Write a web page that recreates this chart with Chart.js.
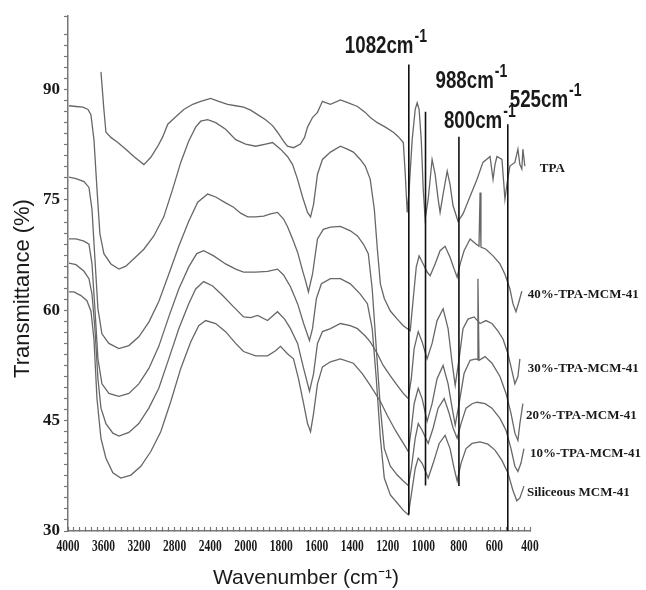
<!DOCTYPE html>
<html>
<head>
<meta charset="utf-8">
<script src="https://cdn.jsdelivr.net/npm/chart.js@4.4.1/dist/chart.umd.min.js"></script>
<style>
  html, body { margin: 0; padding: 0; background: #fff; }
</style>
</head>
<body>
<canvas id="chart" width="646" height="590"></canvas>
<script>
// labelled wavenumbers (cm-1); the axis is twice as dense below 2000
const xTickLabels = [4000, 3600, 3200, 2800, 2400, 2000, 1800, 1600, 1400, 1200, 1000, 800, 600, 400];
const yTickLabels = [30, 45, 60, 75, 90];

const seriesNames = ['TPA', '40%-TPA-MCM-41', '30%-TPA-MCM-41', '20%-TPA-MCM-41', '10%-TPA-MCM-41', 'Siliceous MCM-41'];

const tpaWn = [3629, 3596, 3573, 3517, 3439, 3349, 3259, 3146, 3068, 2989, 2933, 2877, 2787, 2697, 2596, 2506, 2394, 2304, 2203, 2113, 2024, 1972, 1933, 1888, 1849, 1821, 1787, 1765, 1731, 1692, 1669, 1652, 1624, 1596, 1568, 1546, 1523, 1467, 1422, 1371, 1327, 1299, 1259, 1214, 1169, 1141, 1113, 1102, 1091, 1080, 1063, 1046, 1035, 1024, 1012, 1001, 990, 973, 951, 934, 917, 906, 889, 866, 850, 833, 805, 777, 737, 698, 665, 625, 608, 597, 586, 558, 547, 541, 530, 513, 485, 468, 457, 446, 440, 429];
const tpaT = [92.4, 87.3, 84.2, 83.5, 82.8, 81.9, 80.9, 79.8, 80.8, 82.3, 83.6, 85.3, 86.3, 87.3, 88.0, 88.4, 88.8, 88.4, 88.0, 87.8, 87.6, 87.2, 86.6, 85.9, 85.1, 84.2, 83.0, 82.3, 82.1, 82.6, 83.5, 84.9, 86.2, 86.9, 88.4, 88.2, 88.0, 88.6, 88.2, 87.7, 86.9, 86.2, 85.5, 84.9, 84.2, 83.6, 82.8, 78.5, 73.3, 76.5, 83.2, 87.3, 88.2, 87.3, 83.2, 76.5, 72.4, 75.1, 80.5, 78.5, 75.1, 73.3, 75.8, 78.9, 77.1, 74.2, 72.1, 73.1, 75.5, 77.8, 80.1, 80.9, 77.8, 79.8, 80.9, 80.5, 77.1, 75.1, 77.1, 79.6, 80.1, 81.9, 79.8, 79.2, 81.9, 79.6];

const s40Wn = [3989, 3910, 3832, 3775, 3742, 3708, 3674, 3641, 3596, 3517, 3427, 3349, 3259, 3146, 3034, 2922, 2821, 2731, 2641, 2563, 2506, 2428, 2338, 2226, 2113, 2001, 1944, 1888, 1849, 1804, 1765, 1736, 1708, 1680, 1652, 1635, 1618, 1596, 1568, 1523, 1467, 1428, 1394, 1355, 1327, 1299, 1276, 1259, 1242, 1220, 1186, 1147, 1113, 1074, 1057, 1040, 1024, 1001, 979, 962, 934, 906, 878, 850, 827, 810, 793, 771, 737, 704, 687, 681, 676, 648, 608, 569, 541, 513, 496, 479, 463, 446];
const s40T = [87.8, 87.7, 87.6, 87.3, 86.6, 83.2, 76.5, 70.4, 67.7, 66.3, 65.6, 66.0, 67.0, 68.3, 70.1, 72.7, 76.5, 80.1, 83.0, 84.9, 85.7, 85.9, 85.5, 84.6, 83.2, 82.6, 82.3, 82.6, 82.8, 81.9, 80.9, 79.8, 77.8, 75.4, 73.3, 72.7, 74.4, 78.5, 80.5, 81.5, 82.3, 81.9, 81.5, 80.5, 79.6, 77.8, 73.7, 68.3, 63.6, 61.6, 59.9, 58.8, 57.9, 57.2, 61.6, 65.9, 67.4, 66.3, 65.2, 64.7, 66.3, 68.1, 68.7, 67.2, 65.6, 64.5, 66.3, 68.1, 69.7, 69.0, 68.7, 76.0, 68.6, 68.3, 67.4, 66.3, 64.9, 62.9, 60.9, 59.8, 61.1, 62.6];

const s30Wn = [3989, 3910, 3820, 3764, 3730, 3697, 3663, 3629, 3573, 3495, 3427, 3315, 3203, 3090, 2978, 2866, 2753, 2641, 2563, 2473, 2372, 2259, 2147, 2024, 1972, 1933, 1877, 1821, 1781, 1748, 1708, 1674, 1641, 1618, 1596, 1568, 1523, 1467, 1411, 1371, 1327, 1299, 1259, 1226, 1186, 1147, 1113, 1085, 1068, 1052, 1029, 1007, 979, 951, 923, 889, 861, 838, 821, 799, 777, 749, 715, 681, 648, 614, 581, 552, 524, 502, 485, 468, 457];
const s30T = [66.4, 66.2, 65.3, 64.3, 62.2, 57.5, 50.7, 46.7, 44.6, 43.3, 42.9, 43.4, 44.6, 46.7, 49.4, 53.4, 57.5, 60.9, 62.9, 63.9, 63.3, 62.0, 60.6, 59.1, 59.0, 59.3, 58.6, 59.8, 58.8, 57.5, 55.5, 52.1, 49.0, 51.4, 55.5, 57.1, 57.5, 58.2, 57.9, 57.5, 56.5, 55.7, 54.1, 52.5, 51.1, 49.8, 48.7, 48.0, 50.7, 54.8, 57.1, 55.7, 53.4, 55.5, 58.6, 60.2, 57.5, 52.8, 49.8, 53.4, 57.5, 58.8, 59.1, 58.2, 58.6, 58.2, 57.2, 56.1, 54.1, 51.8, 50.0, 51.0, 53.4];

const s20Wn = [3989, 3933, 3854, 3787, 3742, 3708, 3674, 3629, 3573, 3495, 3405, 3292, 3180, 3068, 2956, 2843, 2731, 2619, 2529, 2450, 2338, 2226, 2113, 2024, 1944, 1877, 1832, 1804, 1765, 1731, 1703, 1674, 1652, 1635, 1618, 1596, 1568, 1523, 1467, 1394, 1344, 1299, 1242, 1203, 1158, 1130, 1102, 1085, 1068, 1052, 1029, 1007, 979, 951, 923, 889, 861, 838, 821, 799, 771, 737, 704, 698, 693, 687, 653, 614, 569, 535, 507, 485, 468, 457, 440];
const s20T = [62.5, 62.5, 62.0, 61.3, 59.9, 56.1, 48.0, 42.6, 39.9, 37.9, 37.2, 37.6, 38.8, 40.8, 43.5, 47.6, 52.1, 55.7, 57.9, 58.6, 58.2, 57.1, 55.5, 54.4, 53.8, 53.8, 54.5, 55.1, 54.1, 53.4, 50.7, 47.3, 44.6, 43.5, 46.0, 50.0, 52.3, 53.0, 53.4, 52.8, 51.4, 49.8, 47.6, 45.7, 43.7, 42.6, 41.5, 40.8, 43.9, 47.3, 49.4, 48.0, 44.9, 47.3, 50.7, 52.5, 50.0, 46.7, 44.4, 47.3, 51.4, 53.2, 53.4, 53.3, 64.3, 53.2, 53.7, 52.8, 51.0, 48.7, 46.0, 43.3, 42.3, 44.6, 47.3];

const s10Wn = [3989, 3910, 3820, 3764, 3730, 3697, 3663, 3618, 3540, 3427, 3315, 3203, 3090, 2978, 2866, 2753, 2641, 2540, 2428, 2338, 2226, 2136, 2057, 1989, 1944, 1899, 1860, 1821, 1787, 1765, 1736, 1708, 1680, 1663, 1647, 1624, 1596, 1563, 1523, 1467, 1411, 1371, 1338, 1310, 1288, 1265, 1242, 1220, 1186, 1147, 1113, 1085, 1068, 1046, 1029, 1007, 973, 945, 917, 883, 855, 833, 810, 788, 760, 726, 698, 653, 614, 569, 535, 507, 485, 468, 451, 434];
const s10T = [78.1, 77.9, 77.5, 76.7, 73.7, 67.0, 60.2, 56.8, 55.5, 54.8, 55.2, 56.4, 58.4, 61.2, 64.9, 68.7, 72.1, 74.7, 75.8, 75.4, 74.6, 74.0, 73.2, 72.7, 72.7, 72.8, 73.1, 73.3, 72.4, 71.4, 69.7, 67.9, 65.4, 64.0, 62.5, 64.9, 69.7, 71.0, 71.3, 71.4, 70.8, 70.1, 69.0, 67.7, 62.9, 54.8, 46.7, 41.2, 38.8, 37.6, 36.8, 36.2, 38.5, 42.6, 44.6, 43.7, 41.9, 44.0, 46.7, 48.0, 46.0, 44.0, 42.6, 44.6, 46.7, 47.3, 47.5, 47.3, 46.7, 45.3, 43.7, 41.2, 38.8, 38.1, 39.2, 41.2];

const silWn = [3989, 3910, 3820, 3764, 3730, 3697, 3663, 3618, 3540, 3427, 3315, 3203, 3090, 2978, 2866, 2753, 2641, 2551, 2473, 2360, 2226, 2113, 2024, 1944, 1877, 1821, 1787, 1748, 1708, 1674, 1641, 1624, 1602, 1574, 1523, 1467, 1411, 1355, 1315, 1288, 1265, 1242, 1220, 1186, 1147, 1113, 1085, 1068, 1046, 1029, 1007, 973, 945, 911, 878, 850, 827, 810, 788, 760, 726, 681, 637, 597, 558, 524, 496, 474, 457, 434];
const silT = [69.7, 69.7, 69.4, 69.0, 66.3, 60.2, 53.4, 50.0, 48.7, 48.3, 48.7, 50.0, 52.1, 55.1, 59.1, 62.9, 65.9, 67.7, 68.1, 67.4, 66.3, 65.6, 65.2, 65.2, 65.3, 65.6, 64.8, 63.2, 60.9, 58.2, 55.9, 57.5, 61.6, 63.6, 64.3, 64.3, 63.6, 62.2, 60.9, 57.5, 50.7, 42.6, 37.2, 34.9, 33.8, 32.8, 32.2, 34.9, 38.5, 39.9, 39.2, 37.2, 39.2, 41.9, 43.0, 41.2, 38.5, 36.8, 39.2, 41.2, 41.9, 42.1, 41.8, 41.0, 39.6, 37.9, 35.5, 34.1, 34.5, 36.1];

// marked bands and how far each marker line runs (transmittance)
const peakWn = [1082, 988, 800, 525];
const peakTop = [93.4, 87.0, 83.6, 85.3];
const peakBottom = [32.2, 36.2, 36.1, 30];

const spectra = [[tpaWn, tpaT], [s40Wn, s40T], [s30Wn, s30T], [s20Wn, s20T], [s10Wn, s10T], [silWn, silT]];

// label placement, in pixels
const peakLabelOffset = [[-64, -12], [10, -24], [-15, -9], [2, -17]];
const seriesLabelOffset = [[15, 3], [6, 3], [8, 10], [3, 12], [6, 5], [3, 7]];

const SANS = '"Liberation Sans", Arial, sans-serif';
const SERIF = '"Liberation Serif", "Times New Roman", serif';

const zip = (xs, ys) => xs.map((x, i) => ({ x: x, y: ys[i] }));

// piecewise axis: every labelled wavenumber sits at the same spacing
class SplitWavenumberScale extends Chart.LinearScale {
    determineDataLimits() {
        this.min = Math.min(...xTickLabels);
        this.max = Math.max(...xTickLabels);
    }
    buildTicks() {
        const ticks = [];
        for (let i = 0; i < xTickLabels.length - 1; i++) {
            const a = xTickLabels[i], b = xTickLabels[i + 1];
            for (let k = 0; k < 6; k++)
                ticks.push({ value: a + (b - a) * k / 6 });
        }
        ticks.push({ value: xTickLabels[xTickLabels.length - 1] });
        return ticks;
    }
    getPixelForValue(value) {
        const w = xTickLabels;
        let i = 0;
        while (i < w.length - 2 && value < w[i + 1]) i++;
        const u = i + (w[i] - value) / (w[i] - w[i + 1]);
        return this.getPixelForDecimal(u / (w.length - 1));
    }
    getValueForPixel(pixel) {
        const w = xTickLabels;
        const u = this.getDecimalForPixel(pixel) * (w.length - 1);
        const i = Math.max(0, Math.min(w.length - 2, Math.floor(u)));
        return w[i] + (w[i + 1] - w[i]) * (u - i);
    }
}
SplitWavenumberScale.id = 'splitWavenumber';
SplitWavenumberScale.defaults = Chart.LinearScale.defaults;
Chart.register(SplitWavenumberScale);

function drawNarrow(ctx, text, x, y, font, squeeze, align) {
    ctx.save();
    ctx.font = font;
    ctx.translate(x, y);
    ctx.scale(squeeze, 1);
    ctx.textAlign = align || 'left';
    ctx.fillText(text, 0, 0);
    const width = ctx.measureText(text).width * squeeze;
    ctx.restore();
    return width;
}

const annotations = {
    id: 'annotations',
    afterDraw(chart) {
        const { ctx, chartArea } = chart;
        const xs = chart.scales.x, ys = chart.scales.y;
        ctx.save();
        ctx.fillStyle = '#1a1a1a';

        // wavenumber tick labels
        ctx.textBaseline = 'middle';
        xTickLabels.forEach(w => {
            drawNarrow(ctx, String(w), xs.getPixelForValue(w), chartArea.bottom + 16, 'bold 16px ' + SERIF, 0.72, 'center');
        });

        // axis titles
        ctx.font = '22px ' + SANS;
        ctx.textAlign = 'center';
        ctx.save();
        ctx.translate(chartArea.left - 45, (chartArea.top + chartArea.bottom) / 2 + 15);
        ctx.rotate(-Math.PI / 2);
        ctx.fillText('Transmittance (%)', 0, 0);
        ctx.restore();
        ctx.font = '21px ' + SANS;
        ctx.fillText('Wavenumber (cm\u207B\u00B9)', (chartArea.left + chartArea.right) / 2 + 7, chartArea.bottom + 47);

        // band labels above the marker lines
        ctx.textBaseline = 'alphabetic';
        peakWn.forEach((w, i) => {
            const px = xs.getPixelForValue(w) + peakLabelOffset[i][0];
            const py = ys.getPixelForValue(peakTop[i]) + peakLabelOffset[i][1];
            const mainWidth = drawNarrow(ctx, w + 'cm', px, py, 'bold 24px ' + SANS, 0.78);
            drawNarrow(ctx, '-1', px + mainWidth + 1, py - 11, 'bold 18px ' + SANS, 0.78);
        });

        // sample names at the end of each trace
        ctx.textBaseline = 'middle';
        ctx.textAlign = 'left';
        ctx.font = 'bold 13px ' + SERIF;
        seriesNames.forEach((name, i) => {
            const pts = chart.getDatasetMeta(i).data;
            const last = pts[pts.length - 1];
            ctx.fillText(name, last.x + seriesLabelOffset[i][0], last.y + seriesLabelOffset[i][1]);
        });
        ctx.restore();
    }
};

const datasets = spectra.map((s, i) => ({
    label: seriesNames[i],
    data: zip(s[0], s[1]),
    borderColor: '#676767',
    borderWidth: 1.3,
    pointRadius: 0,
    tension: 0,
    fill: false,
    order: 1
}));

peakWn.forEach((w, i) => {
    datasets.push({
        label: w + ' cm-1',
        data: [{ x: w, y: peakTop[i] }, { x: w, y: peakBottom[i] }],
        borderColor: '#111',
        borderWidth: 1.6,
        pointRadius: 0,
        fill: false,
        order: 0
    });
});

new Chart(document.getElementById('chart'), {
    type: 'line',
    data: { datasets: datasets },
    options: {
        responsive: false,
        animation: false,
        devicePixelRatio: 1,
        events: [],
        layout: { padding: { left: 0, top: 16, right: 116, bottom: 0 } },
        plugins: {
            legend: { display: false },
            tooltip: { enabled: false }
        },
        scales: {
            x: {
                type: 'splitWavenumber',
                afterFit: scale => { scale.height = 59; },
                border: { color: '#777', width: 1.5 },
                grid: { drawOnChartArea: false, tickLength: -4, tickColor: '#777', tickWidth: 1.2 },
                ticks: { autoSkip: false, maxRotation: 0, minRotation: 0, callback: () => '' }
            },
            y: {
                min: 30,
                max: 100,
                afterFit: scale => { scale.width = 68; },
                border: { color: '#777', width: 1.5 },
                grid: { drawOnChartArea: false, tickLength: 4, tickColor: '#777', tickWidth: 1.2 },
                ticks: {
                    stepSize: 1.5,
                    autoSkip: false,
                    padding: 4,
                    color: '#1a1a1a',
                    font: { family: SERIF, size: 17, weight: 'bold' },
                    callback: v => yTickLabels.some(t => Math.abs(t - v) < 0.01) ? String(Math.round(v)) : ''
                }
            }
        }
    },
    plugins: [annotations]
});
</script>
</body>
</html>
